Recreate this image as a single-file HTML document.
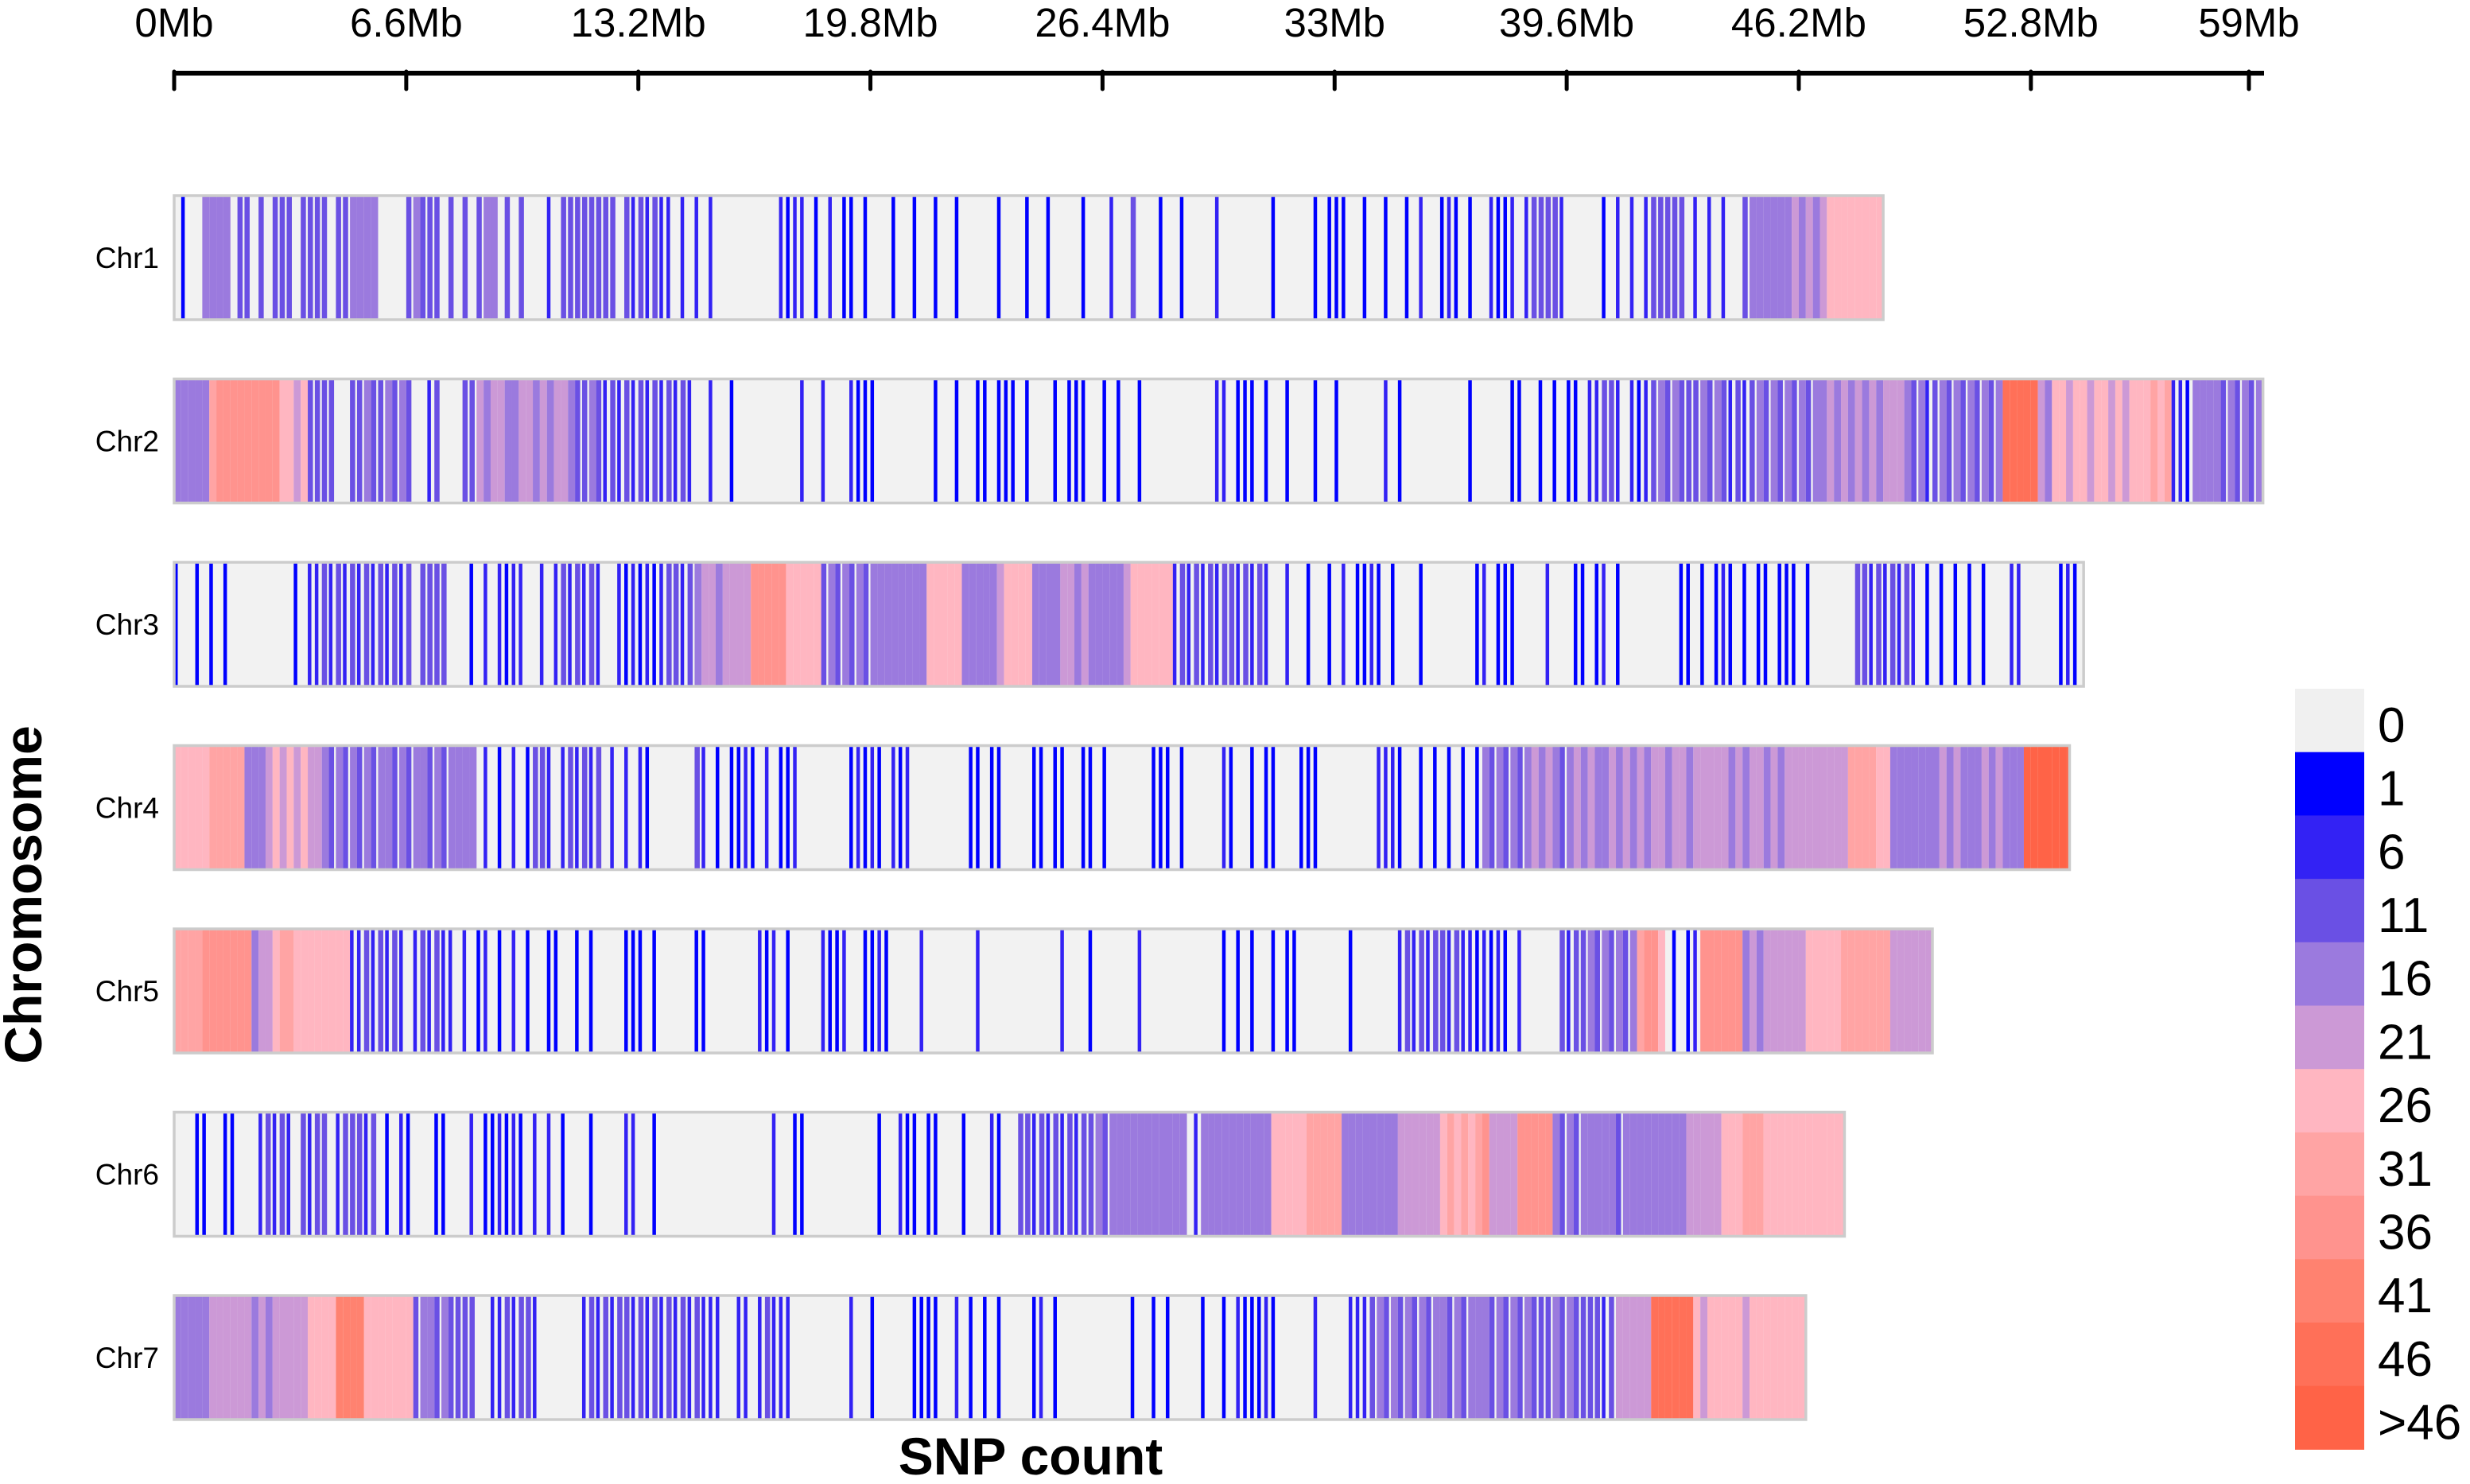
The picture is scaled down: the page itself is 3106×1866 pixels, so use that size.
<!DOCTYPE html>
<html><head><meta charset="utf-8">
<style>
html,body{margin:0;padding:0;background:#fff;}
svg{display:block;}
text{font-family:"Liberation Sans",Arial,sans-serif;}
</style></head>
<body>
<svg id="chart" width="3106" height="1866" viewBox="0 0 3106 1866" xmlns="http://www.w3.org/2000/svg">
<g id="axis"></g>
<g id="rows"></g>
<g id="legend"></g>
<text x="1296" y="1854" font-size="66" font-weight="bold" text-anchor="middle">SNP count</text>
<text transform="translate(52,1125) rotate(-90)" font-size="66" font-weight="bold" text-anchor="middle">Chromosome</text>
</svg>
<script>
// ---- data ----
const tickValues = [0, 6.6, 13.2, 19.8, 26.4, 33, 39.6, 46.2, 52.8, 59];
const tickLabels = ["0Mb","6.6Mb","13.2Mb","19.8Mb","26.4Mb","33Mb","39.6Mb","46.2Mb","52.8Mb","59Mb"];
const chromNames = ["Chr1","Chr2","Chr3","Chr4","Chr5","Chr6","Chr7"];
const chromLengths = [48.6, 59.4, 54.3, 53.9, 50.0, 47.5, 46.4];
const binSizeMb = 0.2;
const legendLabels = ["0","1","6","11","16","21","26","31","36","41","46",">46"];
const legendColors = ["#f0f0f0","#0000ff","#3322f4","#6a50e4","#9b7ade","#cc99d6","#ffb6c1","#ffa4a4","#ff938e","#ff8270","#ff7058","#ff6347"];
// bin density class per 0.2Mb bin (index into legend: 0..9, a=10, b=11)
const chr1Bins = "0100444403"+"3030333033"+"3303344440"+"0003433303"+"0303440303"+"0002033333"+"3330323232"+"2020202000"+"0000002122"+"0102011010"+"0010010010"+"0100000100"+"0100100001"+"0002003000"+"1001000020"+"0000001000"+"0010111001"+"0010010200"+"1210100211"+"2023333200"+"0001020202"+"3333302020"+"2003444444"+"5454566666"+"6666";
const chr2Bins = "4444478888"+"8888866563"+"3330033433"+"4343002300"+"0335455445"+"5454554334"+"3232323232"+"3232002001"+"0000000002"+"0020002111"+"0000000010"+"0100110111"+"0100010111"+"0010100100"+"0000000022"+"0111010010"+"0010010000"+"0020100000"+"0000100000"+"1100101011"+"0223320212"+"3434333434"+"3232343434"+"3434454545"+"4545554342"+"3434343434"+"aaaaa54665"+"6656656566"+"6767221444"+"4343434";
const chr3Bins = "1001010100"+"0000000102"+"2323232323"+"2323033330"+"0010202122"+"0020232323"+"2002121212"+"3323455455"+"5588888666"+"6634343434"+"4444444666"+"6644444566"+"6644445545"+"4444456666"+"6623232323"+"3232320020"+"0100102011"+"2101000100"+"0000012011"+"1000020001"+"1012010000"+"0000110101"+"2101011011"+"1010000003"+"3232323201"+"0101010100"+"02200000121";
const chr4Bins = "6666677777"+"4445656565"+"5434343434"+"4343443434"+"4440201020"+"1332023232"+"3020202100"+"0000320101"+"1210201120"+"0000001212"+"1021200000"+"0001101100"+"0011011001"+"1010000001"+"1101000002"+"1001011000"+"1110000000"+"0222100101"+"0101014343"+"4345454345"+"4544545454"+"5545545555"+"5454554545"+"5555555577"+"7766444444"+"4545444545"+"444bbbbbbbb";
const chr5Bins = "7777888888"+"8455677666"+"6666622323"+"2320232322"+"0201201020"+"1001100101"+"0000111010"+"0000110000"+"0002120100"+"0021120011"+"2100002000"+"0000200000"+"0000002000"+"1000000200"+"0000000001"+"0101001011"+"0000000100"+"0000232323"+"3232212121"+"0200000323"+"3434343478"+"8601012888"+"8884545555"+"5566666777"+"77775555555";
const chr6Bins = "0001100110"+"0023232032"+"3302333230"+"1021000110"+"0020112121"+"0202010001"+"0000220010"+"0000000000"+"0000020011"+"0000000000"+"1002110110"+"0010002100"+"3323232323"+"3434444444"+"4444024444"+"4444446666"+"6777774444"+"4444555555"+"6767678555"+"5888884343"+"4444434444"+"4444455555"+"6667776666"+"666666666";
const chr7Bins = "4444455555"+"5454555556"+"6669999666"+"6666344343"+"3330022323"+"3200000023"+"2323323232"+"3232322200"+"2202322200"+"0000002001"+"0000011110"+"0201010100"+"0012010000"+"0000001001"+"0100001001"+"0211121000"+"0020000222"+"3434343434"+"4343444343"+"4343334343"+"3332355555"+"aaaaaa6566"+"66656666666666";
const chromBins = [chr1Bins, chr2Bins, chr3Bins, chr4Bins, chr5Bins, chr6Bins, chr7Bins];

// ---- scales ----
const NS = "http://www.w3.org/2000/svg";
const x0 = 219, pxPerMb = 44.22;
function xScale(mb){ return x0 + mb * pxPerMb; }
const rowTop0 = 246, rowStep = 230.5, rowH = 156;
function rowY(i){ return rowTop0 + i * rowStep; }
function mk(tag, attrs, parent){ const e=document.createElementNS(NS,tag); for(const k in attrs) e.setAttribute(k,attrs[k]); parent.appendChild(e); return e; }

// ---- axis ----
const axis = document.getElementById("axis");
const axisLine = mk("line",{x1:x0,y1:92,x2:2847,y2:92,stroke:"#000","stroke-width":6},axis);


tickValues.forEach((v,i)=>{
  const t = mk("line",{x1:xScale(v),y1:90,x2:xScale(v),y2:112,stroke:"#000","stroke-width":5,"stroke-linecap":"round"},axis);
  
  
  const l = mk("text",{x:xScale(v),y:46,"font-size":51,"text-anchor":"middle"},axis);
  l.textContent = tickLabels[i];
  
  
});

// ---- tracks ----
const rows = document.getElementById("rows");
chromNames.forEach((name,ci)=>{
  const y = rowY(ci), len = chromLengths[ci];
  const g = mk("g",{},rows);
  
  
  const bg = mk("rect",{x:xScale(0),y:y,width:len*pxPerMb,height:rowH,fill:"#f2f2f2"},g);
  
  
  const bins = chromBins[ci];
  for(let b=0;b<bins.length;b++){
    const lvl = parseInt(bins[b],16);
    if(!lvl) continue;
    const s = b*binSizeMb;
    if(s>=len) break;
    let e = Math.min(len, s+binSizeMb);
    let w = (e-s)*pxPerMb;
    if(lvl<=2) w = Math.min(w, 4.5);
    else if(lvl===3) w = Math.min(w, 6.5);
    const r = mk("rect",{x:xScale(s),y:y,width:w,height:rowH,fill:legendColors[lvl]},g);
    
    
  }
  const border = mk("rect",{x:xScale(0),y:y,width:len*pxPerMb,height:rowH,fill:"none",stroke:"#cccccc","stroke-width":3.5},g);
  
  
  const lab = mk("text",{x:200,y:y+rowH/2+13,"font-size":37,"text-anchor":"end"},g);
  lab.textContent = name;
  
  
});

// ---- legend ----
const legend = document.getElementById("legend");
const lgTop = 866, lgH = 79.7;
legendLabels.forEach((lbl,i)=>{
  const r = mk("rect",{x:2886,y:lgTop+i*lgH,width:87,height:lgH+0.5,fill:legendColors[i]},legend);
  
  
  const t = mk("text",{x:2990,y:lgTop+i*lgH+lgH/2+27,"font-size":62},legend);
  t.textContent = lbl;
  
  
});
</script>
</body></html>
